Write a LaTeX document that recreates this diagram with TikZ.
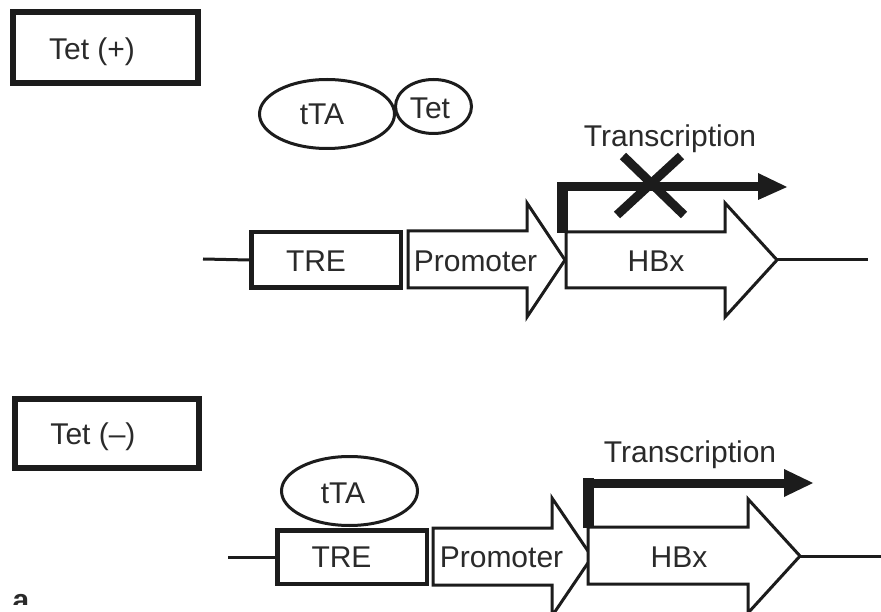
\documentclass[tikz,border=0pt]{standalone}
\usepackage{fontspec}
\setmainfont{Liberation Sans}
\usetikzlibrary{shapes.geometric}
\definecolor{ink}{HTML}{1C1C1C}
\definecolor{txt}{HTML}{2A2A2A}
\tikzset{
  lbl/.style={font=\fontsize{30}{35}\selectfont, text=txt, inner sep=0pt, anchor=base},
  tetbox/.style={draw=ink, line width=6pt, minimum width=185pt, minimum height=71pt, inner sep=0pt},
  trebox/.style={draw=ink, line width=4.5pt, minimum width=149.5pt, inner sep=0pt},
  blob/.style={ellipse, draw=ink, line width=3pt, inner sep=0pt},
  gene/.style={draw=ink, line width=3pt, line join=miter, fill=white},
  dna/.style={draw=ink, line width=3pt},
  barv/.style={draw=ink, line width=11pt},
  barh/.style={draw=ink, line width=9pt},
  headtip/.style={fill=ink},
  cross/.style={draw=ink, line width=9pt}
}
\begin{document}
\begin{tikzpicture}[x=1pt,y=-1pt]
\clip (0,0) rectangle (881,612);
\fill[white] (0,0) rectangle (881,612);

% ===== Tet (+) =====
\node[tetbox] (boxP) at (105.5,47.5) {};
\node[lbl] (tetP) at (92,60) {Tet (+)};

\node[blob, minimum width=135pt, minimum height=69pt] (ttaA) at (327,114) {};
\node[lbl] (ttaAt) at (322,125) {tTA};
\node[blob, minimum width=76pt, minimum height=54pt] (tetA) at (433.5,106.5) {};
\node[lbl] (tetAt) at (430,119) {Tet};

\node[trebox, minimum height=55.5pt] (treA) at (326,260) {};
\node[lbl] (treAt) at (316,272) {TRE};
\coordinate (dnaLA) at (203,259);
\draw[dna] (dnaLA) -- (treA.west);

% promoter arrow
\draw[gene] (408,231) -- (527,231) -- (527,203) -- (565,260) -- (527,317) -- (527,288) -- (408,288) -- cycle;
\node[lbl] (promA) at (475.5,272) {Promoter};
% HBx arrow
\coordinate (hbxTipA) at (777,260);
\draw[gene] (566,232) -- (725,232) -- (725,203) -- (hbxTipA) -- (725,317) -- (725,288) -- (566,288) -- cycle;
\node[lbl] (hbxA) at (656,272) {HBx};
\coordinate (dnaRA) at (868,260);
\draw[dna] (hbxTipA) -- (dnaRA);

% transcription arrow (blocked)
\coordinate (tsA) at (562,233);
\coordinate (thA) at (760,187);
\draw[barv] (tsA) -- (562,182);
\draw[barh] (557,187) -- (thA);
\fill[headtip] (758,173) -- (787,187) -- (758,200) -- cycle;
\node[lbl] (trA) at (670,147) {Transcription};
\draw[cross] (623,156) -- (684,215);
\draw[cross] (681,156) -- (617,215);

% ===== Tet (-) =====
\node[tetbox, minimum width=184pt, minimum height=69pt] (boxM) at (107,433.5) {};
\node[lbl] (tetM) at (93,444) {Tet (–)};

\node[blob, minimum width=136pt, minimum height=69pt] (ttaB) at (349.5,491) {};
\node[lbl] (ttaBt) at (343,503) {tTA};

\node[trebox, minimum height=53.5pt] (treB) at (352,557) {};
\node[lbl] (treBt) at (341.5,567) {TRE};
\coordinate (dnaLB) at (228,557);
\draw[dna] (dnaLB) -- (treB.west);

\draw[gene] (433,528) -- (552,528) -- (552,498) -- (592,557) -- (552,616) -- (552,585) -- (433,585) -- cycle;
\node[lbl] (promB) at (501.5,567) {Promoter};
\coordinate (hbxTipB) at (800,556);
\draw[gene] (588,527) -- (748,527) -- (748,499) -- (hbxTipB) -- (748,613) -- (748,584) -- (588,584) -- cycle;
\node[lbl] (hbxB) at (679,567) {HBx};
\coordinate (dnaRB) at (881,556);
\draw[dna] (hbxTipB) -- (dnaRB);

\coordinate (tsB) at (588,528);
\draw[barv] (tsB) -- (588,478);
\draw[barh] (583,483) -- (786,483);
\fill[headtip] (784,469) -- (813,483) -- (784,497) -- cycle;
\node[lbl] (trB) at (690,462) {Transcription};

% cut-off panel letter, as in the reference
\begin{scope}
\clip (0,590) rectangle (60,604);
\node[lbl, font=\fontsize{30}{35}\selectfont\bfseries] (panel) at (21,610) {a};
\end{scope}
\end{tikzpicture}
\end{document}
